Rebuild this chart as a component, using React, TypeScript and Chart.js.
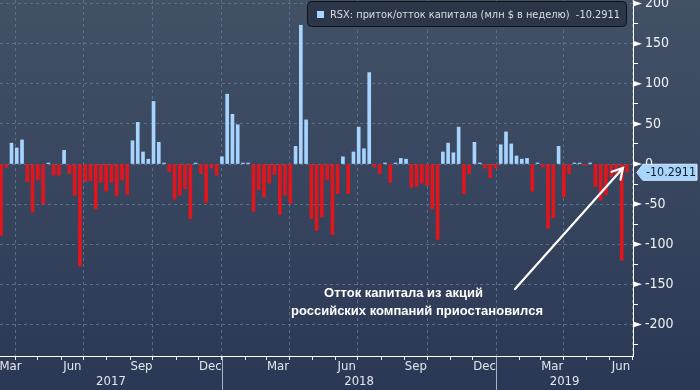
import React, { useEffect, useRef } from 'react';
import { Chart, registerables } from 'chart.js';

Chart.register(...registerables);

// ---- data -------------------------------------------------------------
// weekly RSX flows, million USD per week; first week starts 2017-03-13
const FIRST_WEEK = [2017, 2, 13];
const flows: number[] = [
  -89, -4, 26, 20, 30, -22, -60, -20, -50, 0.5,
  -14, -14, 17, -12, -39, -127, -22, -21, -56, -23,
  -34, -23, -40, -20, -38, 29, 52, 15, 6, 78,
  27, 0.5, -10, -44, -39, -31, -68, 0.5, -12, -48,
  -5, -14, 9, 87, 62, 49, 1, 0.5, -59, -32,
  -41, -24, -13, -63, -39, -49, 22, 173, 55, -68,
  -83, -66, -20, -88, -37, 9, -37, 15, 46, 19,
  114, -4, -12, 0.5, -23, 0.5, 7, 6, -29, -28,
  -24, -27, -56, -94, 15, 26, 14, 46, -37, -12,
  27, 0.5, -5, -17, -5, 24, 40, 25, 10, 6,
  7, -34, 0.5, -4, -80, -67, 22, -41, -12, 0.5,
  1, -2, 0.5, -28, -45, -38, -16, -14, -120, -10.2911,
];
const years = [2017, 2018, 2019];
const monthNames = ['Mar', 'Jun', 'Sep', 'Dec'];
const labelMonths = [2, 5, 8, 11];
const yTicks = [-225, -200, -175, -150, -125, -100, -75, -50, -25, 0, 25, 50, 75, 100, 125, 150, 175, 200];
const seriesName = 'RSX: приток/отток капитала (млн $ в неделю)';
const lastLabel = '-10.2911';
const noteLines = ['Отток капитала из акций', 'российских компаний приостановился'];

// ---- helpers ----------------------------------------------------------
const DAY = 86400000;
const EPOCH = Date.UTC(2017, 0, 1);
const dayOf = (y: number, m: number, d: number) => (Date.UTC(y, m, d) - EPOCH) / DAY;
const firstDay = dayOf(FIRST_WEEK[0], FIRST_WEEK[1], FIRST_WEEK[2]);
const X_MIN = 69.7;
const X_MAX = 912;
const Y_MIN = -239.4;
const Y_MAX = 204.5;

const monthStarts: { value: number; quarter: boolean }[] = [];
for (const y of years) {
  for (let m = 0; m < 12; m++) {
    const d = dayOf(y, m, 1);
    if (d >= X_MIN && d <= X_MAX) monthStarts.push({ value: d, quarter: m % 3 === 0 });
  }
}
const monthLabelTicks: { value: number; text: string }[] = [];
for (const y of years) {
  labelMonths.forEach((m, k) => {
    const start = dayOf(y, m, 1);
    const end = dayOf(y, m + 1, 1);
    if (end <= X_MIN || start >= X_MAX) return;
    let mid = (start + end) / 2;
    mid = Math.max(mid, X_MIN + 14);
    mid = Math.min(mid, X_MAX - 14);
    monthLabelTicks.push({ value: mid, text: monthNames[k] });
  });
}
const yearTicks = years.map((y) => {
  const s = Math.max(dayOf(y, 0, 1), X_MIN);
  const e = Math.min(dayOf(y + 1, 0, 1), X_MAX);
  return { value: (s + e) / 2, text: String(y) };
});
const yearSeparators = years.slice(1).map((y) => dayOf(y, 0, 1));

const FONT_C = '"DejaVu Sans Condensed", "Liberation Sans Narrow", "DejaVu Sans", sans-serif';
const BLUE = '#a6d4ff';
const RED = '#e0161c';
const GRID = '#5b6e88';

const overlay = {
  id: 'overlay',
  beforeDraw(chart: any) {
    const { ctx, width, height } = chart;
    const g = ctx.createLinearGradient(0, 0, 0, height);
    g.addColorStop(0, '#435167');
    g.addColorStop(1, '#2a3855');
    ctx.save();
    ctx.fillStyle = g;
    ctx.fillRect(0, 0, width, height);
    ctx.restore();
  },
  afterDraw(chart: any) {
    const { ctx, height } = chart;
    const xs = chart.scales.x;
    const ys = chart.scales.y;
    const area = chart.chartArea;
    ctx.save();
    // y-axis major markers
    ctx.fillStyle = '#ffffff';
    for (const t of ys.ticks) {
      if (t.value % 50 !== 0) continue;
      const py = ys.getPixelForValue(t.value);
      ctx.beginPath();
      ctx.moveTo(area.right, py - 3);
      ctx.lineTo(area.right + 9, py);
      ctx.lineTo(area.right, py + 3);
      ctx.closePath();
      ctx.fill();
    }
    // year separators
    ctx.strokeStyle = '#a7b2c2';
    ctx.lineWidth = 1;
    for (const d of yearSeparators) {
      const px = Math.round(xs.getPixelForValue(d)) + 0.5;
      ctx.beginPath();
      ctx.moveTo(px, area.bottom + 1);
      ctx.lineTo(px, height);
      ctx.stroke();
    }
    // legend box
    const lx = 307.5, ly = 1.5, lw = 319, lh = 25, r = 4;
    ctx.beginPath();
    ctx.moveTo(lx + r, ly);
    ctx.lineTo(lx + lw - r, ly);
    ctx.arcTo(lx + lw, ly, lx + lw, ly + r, r);
    ctx.lineTo(lx + lw, ly + lh - r);
    ctx.arcTo(lx + lw, ly + lh, lx + lw - r, ly + lh, r);
    ctx.lineTo(lx + r, ly + lh);
    ctx.arcTo(lx, ly + lh, lx, ly + lh - r, r);
    ctx.lineTo(lx, ly + r);
    ctx.arcTo(lx, ly, lx + r, ly, r);
    ctx.closePath();
    ctx.fillStyle = '#2b3649';
    ctx.fill();
    ctx.strokeStyle = '#0c1018';
    ctx.stroke();
    ctx.fillStyle = BLUE;
    ctx.fillRect(317, 11, 7, 7);
    ctx.fillStyle = '#d9dee6';
    ctx.font = '11px ' + FONT_C;
    ctx.textAlign = 'left';
    ctx.textBaseline = 'middle';
    ctx.fillText(seriesName + '  ' + lastLabel, 330, 15, 290);

    // annotation text
    ctx.fillStyle = '#ffffff';
    ctx.font = 'bold 13px "Liberation Sans", Arial, sans-serif';
    ctx.textAlign = 'center';
    ctx.fillText(noteLines[0], 403.5, 293);
    ctx.fillText(noteLines[1], 417, 311);

    // arrow
    const last = flows.length - 1;
    const tipX = xs.getPixelForValue(firstDay + 7 * last) - 4;
    const tipY = ys.getPixelForValue(-5);
    const tailX = 515, tailY = 289;
    ctx.strokeStyle = '#ffffff';
    ctx.lineWidth = 2.2;
    ctx.lineCap = 'round';
    ctx.beginPath();
    ctx.moveTo(tailX, tailY);
    ctx.lineTo(tipX, tipY);
    const ang = Math.atan2(tailY - tipY, tailX - tipX);
    const al = 12;
    ctx.moveTo(tipX + al * Math.cos(ang - 0.52), tipY + al * Math.sin(ang - 0.52));
    ctx.lineTo(tipX, tipY);
    ctx.lineTo(tipX + al * Math.cos(ang + 0.52), tipY + al * Math.sin(ang + 0.52));
    ctx.stroke();

    // last value box
    const vy = ys.getPixelForValue(flows[last]);
    const bx = area.right + 4;
    ctx.beginPath();
    ctx.moveTo(bx, vy);
    ctx.lineTo(bx + 6, vy - 8);
    ctx.lineTo(697, vy - 8);
    ctx.lineTo(697, vy + 8);
    ctx.lineTo(bx + 6, vy + 8);
    ctx.closePath();
    ctx.fillStyle = '#a9d5fb';
    ctx.fill();
    ctx.lineWidth = 1;
    ctx.strokeStyle = '#d8ecff';
    ctx.stroke();
    ctx.fillStyle = '#0f1d31';
    ctx.font = '13px ' + FONT_C;
    ctx.textAlign = 'left';
    ctx.fillText(lastLabel, bx + 9, vy + 0.5, 50);
    ctx.restore();
  },
};

export default function App() {
  const ref = useRef<HTMLCanvasElement>(null);
  useEffect(() => {
    document.body.style.margin = '0';
    const canvas = ref.current;
    if (!canvas) return;
    const chart = new Chart(canvas, {
      type: 'bar',
      data: {
        datasets: [
          {
            label: seriesName,
            data: flows.map((v, i) => ({ x: firstDay + 7 * i, y: v })),
            backgroundColor: flows.map((v) => (v >= 0 ? BLUE : RED)),
            borderWidth: 0,
            barThickness: 3,
            minBarLength: 1,
          } as any,
        ],
      },
      options: {
        responsive: false,
        animation: false,
        events: [],
        layout: { padding: 0 },
        plugins: { legend: { display: false }, tooltip: { enabled: false } },
        scales: {
          x: {
            type: 'linear',
            position: 'bottom',
            weight: 0,
            min: X_MIN,
            max: X_MAX,
            offset: false,
            afterBuildTicks: (s: any) => {
              s.ticks = monthStarts.map((t) => ({ value: t.value }));
            },
            afterFit: (s: any) => {
              s.height = 4;
              s.paddingLeft = 0;
              s.paddingRight = 0;
            },
            grid: {
              offset: false,
              color: (c: any) => (monthStarts[c.index] && monthStarts[c.index].quarter ? GRID : 'transparent'),
              lineWidth: 1,
              drawTicks: true,
              tickLength: 4,
              tickColor: '#e8ebf0',
            },
            border: { display: true, color: '#ffffff', width: 1, dash: [3, 3] },
            ticks: { display: false },
          } as any,
          xm: {
            type: 'linear',
            position: 'bottom',
            weight: 1,
            min: X_MIN,
            max: X_MAX,
            offset: false,
            afterBuildTicks: (s: any) => {
              s.ticks = monthLabelTicks.map((t) => ({ value: t.value }));
            },
            afterFit: (s: any) => {
              s.height = 13;
              s.paddingLeft = 0;
              s.paddingRight = 0;
            },
            grid: { display: false, drawTicks: false },
            border: { display: false },
            ticks: {
              autoSkip: false,
              maxRotation: 0,
              padding: 0,
              color: '#e3e7ed',
              font: { family: FONT_C, size: 13, lineHeight: 1 },
              callback: (_v: any, i: number) => (monthLabelTicks[i] ? monthLabelTicks[i].text : ''),
            },
          } as any,
          xy: {
            type: 'linear',
            position: 'bottom',
            weight: 2,
            min: X_MIN,
            max: X_MAX,
            offset: false,
            afterBuildTicks: (s: any) => {
              s.ticks = yearTicks.map((t) => ({ value: t.value }));
            },
            afterFit: (s: any) => {
              s.height = 17;
              s.paddingLeft = 0;
              s.paddingRight = 0;
            },
            grid: { display: false, drawTicks: false },
            border: { display: false },
            ticks: {
              autoSkip: false,
              maxRotation: 0,
              padding: 2,
              color: '#e3e7ed',
              font: { family: FONT_C, size: 13, lineHeight: 1 },
              callback: (_v: any, i: number) => (yearTicks[i] ? yearTicks[i].text : ''),
            },
          } as any,
          y: {
            type: 'linear',
            position: 'right',
            min: Y_MIN,
            max: Y_MAX,
            afterBuildTicks: (s: any) => {
              s.ticks = yTicks.map((v) => ({ value: v }));
            },
            afterFit: (s: any) => {
              s.width = 67;
              s.paddingTop = 0;
              s.paddingBottom = 0;
            },
            grid: {
              color: (c: any) => (c.tick && c.tick.value % 50 === 0 ? GRID : 'transparent'),
              lineWidth: 1,
              drawTicks: true,
              tickLength: 5,
              tickColor: '#ffffff',
            },
            border: { display: true, color: '#ffffff', width: 1, dash: [3, 3] },
            ticks: {
              autoSkip: false,
              padding: 7,
              color: '#eef1f5',
              font: { family: FONT_C, size: 14 },
              callback: (v: any) => (Number(v) % 50 === 0 ? String(v) : ''),
            },
          } as any,
        },
      } as any,
      plugins: [overlay],
    });
    return () => chart.destroy();
  }, []);
  return <canvas ref={ref} width={700} height={390} style={{ display: 'block' }} />;
}
